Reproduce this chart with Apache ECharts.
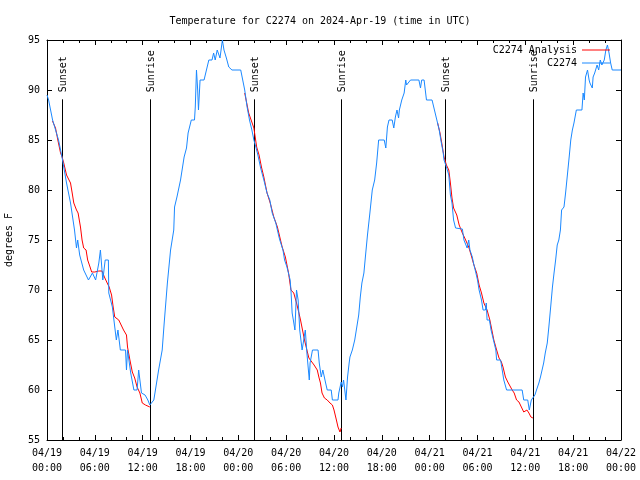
<!DOCTYPE html>
<html>
<head>
<meta charset="utf-8">
<script src="https://cdn.jsdelivr.net/npm/echarts@6/dist/echarts.min.js"></script>
<style>html,body{margin:0;padding:0;background:#fff}#c{width:640px;height:480px}</style>
</head>
<body>
<div id="c"></div>
<script>
// Hours since 2024-04-19 00:00 UTC
const xTickLabels = ["04/19\n00:00","04/19\n06:00","04/19\n12:00","04/19\n18:00","04/20\n00:00","04/20\n06:00","04/20\n12:00","04/20\n18:00","04/21\n00:00","04/21\n06:00","04/21\n12:00","04/21\n18:00","04/22\n00:00"];
const yTicks = [55,60,65,70,75,80,85,90,95];

const obsHours = [0,0.2,0.7,1.45,1.95,2.45,2.95,3.45,3.7,3.85,4.1,4.6,5.2,5.7,6.1,6.5,6.7,7.0,7.3,7.7,7.75,8.2,8.5,8.7,8.9,9.2,9.85,9.97,10.1,10.5,10.9,11.3,11.5,11.85,12.3,12.65,12.9,13.4,13.6,14.0,14.45,14.7,15.1,15.5,15.9,16.0,16.3,16.75,17.2,17.5,17.7,18.1,18.5,18.6,18.75,18.9,19.0,19.2,19.7,20.0,20.3,20.7,20.9,21.1,21.35,21.7,22.0,22.2,22.5,22.8,23.2,24.3,24.5,24.8,25.1,25.4,25.7,25.95,26.2,26.45,26.8,27.2,27.6,27.95,28.25,28.7,29.1,29.2,29.6,29.8,30.1,30.5,30.6,30.75,30.9,31.1,31.3,31.5,31.7,32.0,32.2,32.4,32.6,32.9,33.0,33.3,34.0,34.15,34.4,34.6,34.95,35.15,35.65,35.8,36.5,36.6,36.9,37.05,37.2,37.5,37.7,37.9,38.0,38.3,38.6,38.8,39.1,39.3,39.5,39.75,39.96,40.2,40.5,40.8,41.1,41.35,41.6,42.3,42.5,42.7,42.9,43.3,43.5,43.7,43.9,44.1,44.2,44.5,44.8,45.0,45.1,45.3,45.6,46.65,46.85,47.0,47.3,47.6,48.3,48.6,48.9,49.2,49.4,49.7,49.8,50.1,50.4,50.6,50.8,51.0,51.25,52.1,52.3,52.7,52.9,53.05,53.35,53.5,53.8,54.0,54.2,54.5,54.7,55.0,55.1,55.2,55.5,55.7,56.0,56.3,56.4,56.9,57.1,57.3,57.65,59.6,59.8,60.3,60.5,60.75,61.0,61.2,61.4,61.7,61.9,62.1,62.3,62.5,62.75,62.95,63.2,63.4,63.6,63.8,64.0,64.2,64.4,64.55,64.85,65.05,65.3,65.5,65.7,65.9,66.1,66.4,67.1,67.25,67.4,67.55,67.8,68.0,68.1,68.4,68.5,68.7,69.0,69.2,69.4,69.6,69.9,70.1,70.3,70.5,70.7,70.9,72];
const obsTemps = [89.5,89,87,85,83,80.7,78.7,76,74.2,75,73.5,72,71,71.7,71,72.7,74,71,73,73,69.7,68.3,66.3,65,66,64,64,62,64,61.7,60,60,62,59.7,59.5,59,58.5,59,60,62,64,66.7,70.7,74,76,78.3,79.3,81,83.3,84.2,85.7,87,87,88.3,92,90,88,91,91,92,93,93,93.7,93,94,93.2,95,94,93.2,92.3,92,92,91.2,90,88.3,87,86,85,84.3,83.5,82.2,81,79.7,79,77.7,76.7,75.3,75,74,73,72.3,71,70,67.7,67,66,70,69,66,64,65,66,63.7,61,62.7,64,64,62.7,61.3,62,60.7,60,60,59,59,59.7,60.8,60.3,61,59,61.3,62.7,63.3,64,65,66,67.5,69.3,70.7,71.7,73.5,75.5,77.7,80,81,82.7,85,85,84.2,86.3,87,87,86.2,87.3,88,87.2,88,89,89.7,91,90.5,90.7,91,91,90.2,91,91,89,89,88,87,86,85,83.7,83,82.3,81.5,79.5,78.7,77,76.2,76.1,75,74.2,75,74,73.3,72.7,71.7,71,70,69,68,68,68.7,67,67,66,65,64,63,63,62,61,60,60,59,59,58,59,59,59.5,60,60.7,61.3,62,62.7,63.7,64.7,66.3,68.5,70.3,71.7,73,74.5,75,76,78,78.3,79.7,81.7,83.3,85,86,86.7,88,88,89.7,89,91.3,92,91,90.7,90.2,91.3,91.7,92.5,92,93,92.5,93,94,94.5,93.7,92.7,92,92];

// Analysis (night-time only); null separates nights
const anaHours = [0.69,1.07,1.36,1.7,1.9,2.1,2.45,2.95,3.16,3.36,3.7,3.9,4.2,4.4,4.6,4.9,5.1,5.4,5.6,6.0,6.5,6.9,7.2,7.55,7.8,8.1,8.3,8.5,8.7,9.0,9.3,9.6,9.97,10.1,10.4,10.7,11.0,11.3,11.65,11.95,12.35,12.9,
  18.0,
  24.8,25.3,25.95,26.3,26.6,26.9,27.2,27.6,28.0,28.45,28.9,29.2,29.5,29.9,30.3,30.6,30.95,31.3,31.6,31.8,32.05,32.3,32.6,32.85,33.1,33.5,33.9,34.1,34.3,34.5,34.8,35.15,35.5,35.8,36.0,36.3,36.5,36.75,36.9,
  42.0,
  49.0,49.3,49.6,49.8,50.1,50.4,50.6,50.8,51.0,51.4,51.7,52.1,52.4,52.6,52.9,53.2,53.55,53.9,54.2,54.5,54.8,55.2,55.55,55.8,56.05,56.4,56.7,57.0,57.2,57.5,57.8,58.0,58.35,58.6,58.9,59.2,59.5,59.8,60.2,60.45,60.7,60.95];
const anaTemps = [86.9,86.2,85,83.7,83.3,82.7,81.5,80.7,79.7,78.7,78,77.7,76.3,75,74.2,74,73,72.3,71.8,71.8,71.9,71.9,71.3,70.7,70.3,69.5,68.3,67.3,67.1,67,66.5,66,65.5,64.3,63,61.8,61.2,60.3,59.7,58.7,58.5,58.3,
  null,
  89.7,87.7,86.2,84.3,83.5,82.3,81.3,79.7,78.7,77.3,76.3,75.3,74.3,73.3,71.7,70,69.7,68.7,67.7,67,66,65,64,63.2,63,62.5,62,61.3,60.7,59.7,59.2,59,58.7,58.5,58,57,56.3,55.8,56.2,
  null,
  86.7,85.7,84.3,83.3,82.5,82,80.7,79.2,78.2,77.5,76.5,75.7,75.2,75.3,74.3,73.5,72.5,71.7,70.5,69.7,68.7,68,67,66,65,64,63.2,62.8,62.3,61.3,60.8,60.7,60,59.7,59,58.8,58.3,57.8,58,57.7,57.3,57.2];

const sunHours = [1.86,12.9,25.95,36.86,49.9,60.95];
const sunLabels = ["Sunset","Sunrise","Sunset","Sunrise","Sunset","Sunrise"];

const FONT = 'DejaVu Sans Mono';
const LINE_TOP = 89.07;

const obsData = obsHours.map((h,i)=>[h,obsTemps[i]]);
const anaData = anaHours.map((h,i)=>[h,anaTemps[i]]);
const sunData = sunHours.map((h,i)=>[h,sunLabels[i]]);

const chart = echarts.init(document.getElementById('c'), null, {renderer:'canvas'});
const axisCommon = {
  type:'value', min:0, max:72, interval:6,
  axisLine:{show:true, onZero:false, lineStyle:{color:'#000', width:1}},
  axisTick:{show:true, inside:true, length:5, lineStyle:{color:'#000'}},
  minorTick:{show:true, splitNumber:3, length:3, lineStyle:{color:'#000'}},
  splitLine:{show:false}
};
const yCommon = {
  type:'value', min:55, max:95, interval:5,
  axisLine:{show:true, onZero:false, lineStyle:{color:'#000', width:1}},
  axisTick:{show:true, inside:true, length:5, lineStyle:{color:'#000'}},
  splitLine:{show:false}
};
chart.setOption({
  animation:false,
  backgroundColor:'#fff',
  title:{text:'Temperature for C2274 on 2024-Apr-19 (time in UTC)', left:'center', top:11,
    textStyle:{fontFamily:FONT, fontSize:10, fontWeight:'normal', color:'#000'}},
  legend:{
    data:[{name:'C2274 Analysis', icon:'rect'},{name:'C2274', icon:'rect'}],
    orient:'vertical', right:30, top:45, align:'right', padding:0,
    itemWidth:28, itemHeight:1, itemGap:3,
    textStyle:{fontFamily:FONT, fontSize:10, color:'#000'}
  },
  grid:{left:47, right:19, top:40, bottom:40, containLabel:false, outerBoundsMode:'none'},
  xAxis:[
    Object.assign({}, axisCommon, {position:'bottom',
      axisLabel:{fontFamily:FONT, fontSize:10, color:'#000', lineHeight:15, margin:6,
        formatter:(v)=>xTickLabels[Math.round(v/6)]}}),
    Object.assign({}, axisCommon, {position:'top', axisLabel:{show:false}})
  ],
  yAxis:[
    Object.assign({}, yCommon, {position:'left', name:'degrees F', nameLocation:'middle', nameGap:33,
      nameTextStyle:{fontFamily:FONT, fontSize:10, color:'#000'},
      axisLabel:{fontFamily:FONT, fontSize:10, color:'#000', margin:7,
        formatter:(v)=> yTicks.indexOf(v)>=0 ? String(v) : ''}}),
    Object.assign({}, yCommon, {position:'right', axisLabel:{show:false}})
  ],
  series:[
    {name:'sun', type:'custom', xAxisIndex:0, yAxisIndex:0, data:sunData, z:1, silent:true,
      renderItem:function(params, api){
        const t = api.value(0);
        const p0 = api.coord([t,55]);
        const p1 = api.coord([t,LINE_TOP]);
        const lbl = sunLabels[params.dataIndex];
        return {type:'group', children:[
          {type:'line', shape:{x1:Math.round(p0[0])+0.5,y1:p0[1],x2:Math.round(p1[0])+0.5,y2:p1[1]}, style:{stroke:'#000', lineWidth:1}},
          {type:'text', x:Math.round(p1[0])+1, y:p1[1]-7, rotation:Math.PI/2,
            style:{text:lbl, fill:'#000', font:'10px "'+FONT+'"', align:'left', verticalAlign:'middle'}}
        ]};
      }
    },
    {name:'C2274 Analysis', type:'line', data:anaData, symbol:'none', connectNulls:false, z:2,
      lineStyle:{color:'#ff0000', width:1}, itemStyle:{color:'#ff0000'}},
    {name:'C2274', type:'line', data:obsData, symbol:'none', z:3,
      lineStyle:{color:'#1a88ff', width:1}, itemStyle:{color:'#1a88ff'}}
  ]
});
</script>
</body>
</html>
